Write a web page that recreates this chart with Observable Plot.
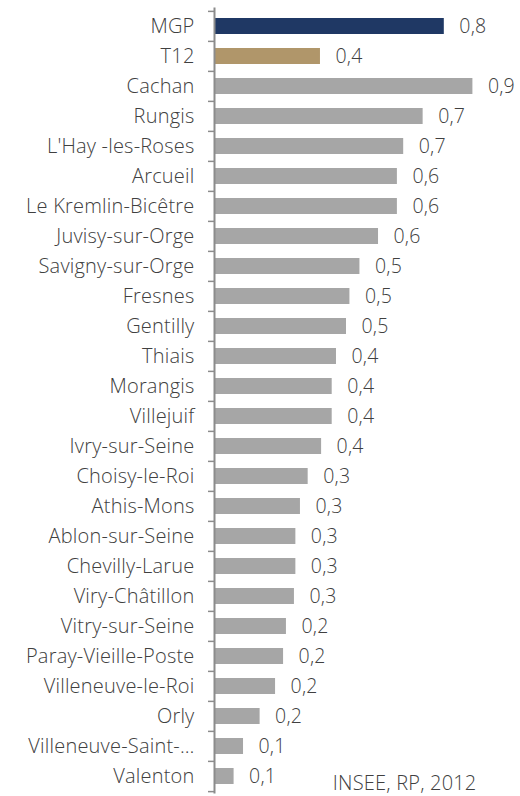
<!DOCTYPE html>
<html>
<head>
<meta charset="utf-8">
<script src="https://cdn.jsdelivr.net/npm/d3@7"></script>
<script src="https://cdn.jsdelivr.net/npm/@observablehq/plot@0.6"></script>
<style>
  html, body { margin: 0; padding: 0; background: #fff; }
  #chart { width: 520px; height: 796px; }
</style>
</head>
<body>
<div id="chart"></div>
<script>
const names = ["MGP","T12","Cachan","Rungis","L'Hay -les-Roses","Arcueil","Le Kremlin-Bicêtre","Juvisy-sur-Orge","Savigny-sur-Orge","Fresnes","Gentilly","Thiais","Morangis","Villejuif","Ivry-sur-Seine","Choisy-le-Roi","Athis-Mons","Ablon-sur-Seine","Chevilly-Larue","Viry-Châtillon","Vitry-sur-Seine","Paray-Vieille-Poste","Villeneuve-le-Roi","Orly","Villeneuve-Saint-…","Valenton"];
const values = [0.80,0.367,0.90,0.726,0.658,0.636,0.636,0.57,0.505,0.47,0.458,0.423,0.408,0.408,0.371,0.324,0.297,0.281,0.281,0.276,0.248,0.238,0.21,0.156,0.098,0.065];
const groups = ["MGP","T12","commune","commune","commune","commune","commune","commune","commune","commune","commune","commune","commune","commune","commune","commune","commune","commune","commune","commune","commune","commune","commune","commune","commune","commune"];
const groupNames = ["MGP","T12","commune"];
const groupColors = ["#1f3864","#b0966a","#a6a6a6"];
const source = "INSEE, RP, 2012";

const data = names.map((name, i) => ({name, value: values[i], group: groups[i]}));
const fmt = v => d3.format(".1f")(v).replace(".", ",");

const W = 520, H = 796, mTop = 7.5, mBottom = 2.5;
const step = (H - mTop - mBottom) / names.length;
const font = "'Open Sans', Lato, sans-serif";

const chart = Plot.plot({
  width: W,
  height: H,
  marginTop: mTop,
  marginBottom: mBottom,
  marginLeft: 214,
  marginRight: 20,
  style: {fontFamily: font, fontWeight: 300, color: "#404040", background: "#fff", overflow: "visible", letterSpacing: "0.2px"},
  x: {domain: [0, 1], axis: null},
  y: {domain: names, padding: 0, axis: null},
  color: {domain: groupNames, range: groupColors},
  marks: [
    Plot.barX(data, {x: "value", y: "name", fill: "group", insetTop: 7, insetBottom: 7, dx: 1}),
    Plot.text(data, {x: "value", y: "name", text: d => fmt(d.value), dx: 16, textAnchor: "start", fontSize: 19.5, fill: "#404040"}),
    Plot.axisY({tickSize: 0, tickPadding: 20, fontSize: 20, fill: "#404040", textAnchor: "end", label: null}),
    Plot.axisY({text: null, tickSize: 6, dy: -step / 2, stroke: "#8c8c8c", strokeWidth: 1.5, label: null}),
    Plot.axisY([names[names.length - 1]], {text: null, tickSize: 6, dy: step / 2, stroke: "#8c8c8c", strokeWidth: 1.5, label: null}),
    Plot.ruleX([0], {stroke: "#8c8c8c", strokeWidth: 2}),
    Plot.text([source], {frameAnchor: "bottom-right", text: d => d, textAnchor: "end", lineAnchor: "bottom", dx: -24, dy: -4, fontSize: 20, fill: "#404040"})
  ]
});
document.getElementById("chart").appendChild(chart);
</script>
</body>
</html>
